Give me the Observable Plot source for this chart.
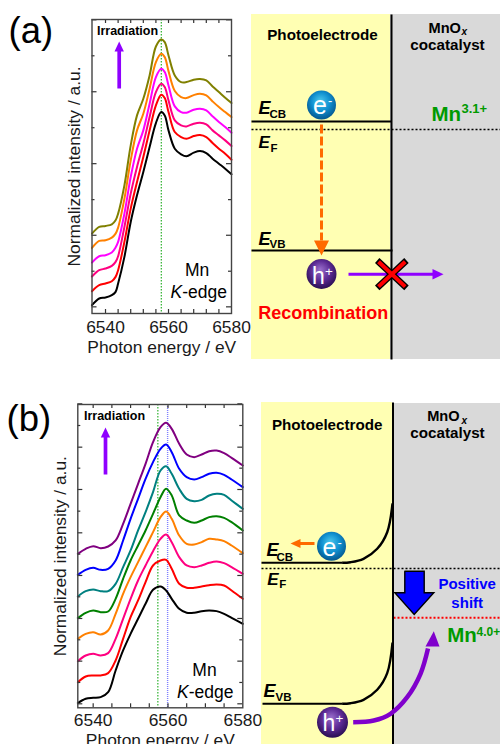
<!DOCTYPE html>
<html>
<head>
<meta charset="utf-8">
<script src="https://cdn.jsdelivr.net/npm/d3@7"></script>
<script src="https://cdn.jsdelivr.net/npm/@observablehq/plot@0.6"></script>
<style>
html,body{margin:0;padding:0;background:#fff;overflow:hidden}
#page{position:relative;width:500px;height:744px;overflow:hidden;font-family:"Liberation Sans",Arial,sans-serif}
#page svg{position:absolute;overflow:visible;background:transparent}
</style>
</head>
<body>
<div id="page"></div>
<script>
// ---- panel (a) spectra ----
const energyA = [6535.7,6538,6540,6542,6543.2,6544,6546,6548,6550,6552,6554,6556,6557.7,6558.8,6560,6562,6564,6565.7,6568,6570,6572,6574,6576,6578,6580];
const a0black   = [85,105,108,115,125,150,230,335,415,485,560,632,665,655,610,555,538,532,543,548,542,525,510,495,478];
const a1red     = [127,145,150,157,170,190,275,375,455,530,610,685,717,707,665,605,590,585,593,596,590,572,555,540,522];
const a2pink    = [171,190,195,203,215,232,320,420,500,570,650,725,750,740,700,640,625,622,630,633,628,610,595,580,563];
const a3magenta = [213,232,235,243,258,275,360,470,555,610,690,770,795,785,745,682,665,663,672,675,670,652,635,620,603];
const a4orange  = [257,278,280,288,300,318,405,520,610,660,735,815,840,830,788,728,710,707,716,720,715,697,680,665,650];
const a5olive   = [300,320,323,328,340,360,445,565,655,705,775,862,883,875,835,775,755,755,762,764,760,742,725,708,692];
const seriesA = [[a0black,"#000000"],[a1red,"#ff0000"],[a2pink,"#ff0080"],[a3magenta,"#ff00ff"],[a4orange,"#ff8000"],[a5olive,"#808000"]];
const xDomainA = [6535.71,6580], yDomainA = [60,943];
const xTicksA = [6540,6544,6548,6552,6556,6560,6564,6568,6572,6576];
const yMajorA = [80,295,510,726,942], yMinorA = [187,402,618,834];

// ---- panel (b) spectra ----
const energyB = [6535.9,6538,6540,6542,6544,6546,6548,6550,6552,6554,6556,6558,6559.5,6561,6563,6565,6567,6569,6571,6573,6575,6577,6580];
const b0black  = [32,45,48,50,65,130,190,240,285,330,372,382,370,345,315,303,303,308,310,308,300,288,270];
const b1red    = [95,112,115,115,122,160,225,290,340,395,445,460,462,435,390,378,378,382,386,388,385,370,345];
const b2pink   = [158,175,180,175,182,225,285,345,400,445,488,525,538,515,470,445,440,445,453,457,452,440,420];
const b3orange = [225,240,245,238,250,300,360,410,455,500,545,590,607,585,535,510,508,515,525,523,518,505,482];
const b4green  = [287,303,310,305,307,345,405,460,505,550,600,650,675,655,595,580,573,580,590,593,588,575,550];
const b5teal   = [352,368,373,368,368,390,440,490,550,605,665,730,743,720,675,645,638,642,655,660,657,640,615];
const b6blue   = [417,432,438,432,435,460,520,585,645,705,755,795,808,785,735,710,703,710,720,723,717,703,680];
const b7purple = [480,495,503,497,502,520,570,630,690,750,815,860,873,855,810,778,770,778,788,790,782,768,745];
const seriesB = [[b0black,"#000000"],[b1red,"#ff0000"],[b2pink,"#ff0080"],[b3orange,"#ff8000"],[b4green,"#008000"],[b5teal,"#008080"],[b6blue,"#0000ff"],[b7purple,"#800080"]];
const xDomainB = [6535.89,6580], yDomainB = [18,928];
const xTicksB = [6540,6545,6550,6555,6560,6565,6570,6575];
const yMajorB = [30,158,286,415,543,673,800,930], yMinorB = [94,222,351,479,608,737,865];

const xLabelTicks = [6540,6560,6580];
const font = '"Liberation Sans",Arial,sans-serif';

function spectrum(cfg){
  const [x0,x1]=cfg.xDomain,[y0,y1]=cfg.yDomain;
  const dx=(x1-x0)/(cfg.right-cfg.left), dy=(y1-y0)/(cfg.bottom-cfg.top);
  const rows=cfg.series.flatMap(([vals,color])=>vals.map((v,i)=>({e:cfg.energy[i],v,color})));
  const tickStyle={stroke:"#333",strokeWidth:1.2};
  const plot=Plot.plot({
    width:cfg.width,height:cfg.height,
    marginLeft:cfg.left,marginRight:cfg.width-cfg.right,marginTop:cfg.top,marginBottom:cfg.height-cfg.bottom,
    x:{domain:cfg.xDomain},y:{domain:cfg.yDomain},
    style:{fontFamily:font,background:"transparent",color:"#1a1a1a"},
    marks:[
      ...cfg.guides.map(g=>Plot.ruleX([g.e],{stroke:g.color,strokeWidth:g.w,strokeDasharray:g.dash})),
      Plot.line(rows,{x:"e",y:"v",z:"color",stroke:"color",strokeWidth:2,curve:"catmull-rom"}),
      Plot.ruleX(cfg.xTicks,{y1:y0,y2:y0+4*dy,...tickStyle}),
      Plot.ruleX(cfg.xTicks,{y1:y1,y2:y1-4*dy,...tickStyle}),
      Plot.ruleY(cfg.yMajor,{x1:x0,x2:x0+5*dx,...tickStyle}),
      Plot.ruleY(cfg.yMinor,{x1:x0,x2:x0+3*dx,...tickStyle}),
      Plot.ruleY(cfg.yMajor,{x1:x1,x2:x1-5*dx,...tickStyle}),
      Plot.ruleY(cfg.yMinor,{x1:x1,x2:x1-3*dx,...tickStyle}),
      Plot.frame({stroke:"#444",strokeWidth:1.4}),
      Plot.axisX(xLabelTicks,{anchor:"bottom",tickSize:0,tickPadding:cfg.xPad,tickFormat:"d",fontSize:17.4,
        label:"Photon energy / eV",labelAnchor:"center",labelArrow:"none",labelOffset:cfg.xLabelOffset}),
      Plot.axisY(cfg.yMajor,{anchor:"left",tickSize:0,tickFormat:()=>"",fontSize:17.4,
        label:"Normalized intensity / a.u.",labelAnchor:"center",labelArrow:"none",labelOffset:cfg.yLabelOffset})
    ]
  });
  plot.style.left=cfg.px+"px";plot.style.top=cfg.py+"px";
  return plot;
}

// ---- schematic geometry ----
const cbCurveB=[[341.7,562.3],[350,561.7],[363,558.3],[376.7,548.3],[386.7,531.7],[392,503]];
const vbCurveB=[[341.7,703.3],[350,702.7],[363,699.3],[376.7,689.3],[386.7,672.7],[392,642]];
const holeCurveB=[[352.7,721.7],[373.3,720],[390,713.3],[406.7,696.7],[420,673.3],[427.5,648]];
const shiftArrowB=[[404.3,570.7],[423.7,570.7],[423.7,592.3],[433.3,592.3],[413.7,614],[394.3,592.3],[404.3,592.3],[404.3,570.7]];

const seg=(pts,o={})=>Plot.line(pts,{x:d=>d[0],y:d=>d[1],stroke:"#000",strokeWidth:2,strokeLinecap:"butt",strokeLinejoin:"miter",strokeMiterlimit:10,...o});
const poly=(pts,fill,o={})=>Plot.line([...pts,pts[0]],{x:d=>d[0],y:d=>d[1],fill,stroke:"none",strokeLinejoin:"miter",strokeMiterlimit:10,...o});
const T=(text,x,y,size,o={})=>Plot.text([text],{x:[x],y:[y],text:d=>d,fontSize:size,textAnchor:"start",lineAnchor:"bottom",fill:"#000",...o});
const B={fontWeight:"bold"}, BI={fontWeight:"bold",fontStyle:"italic"}, M={textAnchor:"middle"};
const green="#009a00", violet="#8f00ff", deep="#8000cc", orange="#ff6a00";

const defs=()=>{
  const d=d3.create("svg:defs");
  const grad=(id,stops)=>{
    const g=d.append("radialGradient").attr("id",id).attr("cx","50%").attr("cy","42%").attr("r","58%").attr("fx","45%").attr("fy","35%");
    stops.forEach(([o,c])=>g.append("stop").attr("offset",o).attr("stop-color",c));
  };
  grad("eBall",[["0%","#4cc8ec"],["55%","#1090d0"],["100%","#05578f"]]);
  grad("hBall",[["0%","#9a70cc"],["55%","#5e2c96"],["100%","#2a0e52"]]);
  return d.node();
};

const schematic=Plot.plot({
  width:500,height:744,margin:0,
  x:{domain:[0,500],range:[0,500],axis:null},
  y:{domain:[0,744],range:[0,744],axis:null},
  style:{fontFamily:font,background:"transparent"},
  marks:[
    defs,
    // panel (a) backgrounds
    Plot.rect([0],{x1:[251],x2:[390],y1:[14],y2:[359],fill:"#ffffb3"}),
    Plot.rect([0],{x1:[390],x2:[500],y1:[14],y2:[359],fill:"#d9d9d9"}),
    // panel (b) backgrounds
    Plot.rect([0],{x1:[261],x2:[392],y1:[402],y2:[744],fill:"#ffffb3"}),
    Plot.rect([0],{x1:[392],x2:[500],y1:[403],y2:[744],fill:"#d9d9d9"}),

    T("(a)",8,42,36.5),
    T("(b)",6,430,36.5),

    // Irradiation (a)
    T("Irradiation",127,34,12.5,{...B,...M}),
    seg([[118.7,88],[118.7,50]],{stroke:violet,strokeWidth:3.7}),
    poly([[114,51],[118.7,41],[123.4,51]],violet),
    T("Mn",196.7,275,17.5,M),
    T("K",170,297,17.5,{fontStyle:"italic"}),
    T("-edge",181.7,297,17.5),

    // Irradiation (b)
    T("Irradiation",114,419,12.5,{...B,...M}),
    seg([[105,474],[105,436]],{stroke:violet,strokeWidth:3.7}),
    poly([[100.3,437],[105,427],[109.7,437]],violet),
    T("Mn",204,675,17.5,M),
    T("K",176.5,697,17.5,{fontStyle:"italic"}),
    T("-edge",188.2,697,17.5),

    // schematic (a)
    T("Photoelectrode",322,39,15.2,{...B,...M}),
    T("MnO",428,32,14.6,B),
    T("x",461,34,10,BI),
    T("cocatalyst",447,49,15.2,{...B,...M}),
    seg([[251,121],[391,121]]),
    seg([[251,250],[392,250]]),
    seg([[251,129],[500,129]],{strokeWidth:1.4,strokeDasharray:"2,2"}),
    seg([[391,14],[391,359]],{strokeWidth:2}),
    T("E",258,113,18,BI),T("CB",269,117.3,11.5,B),
    T("E",258,147.7,17,BI),T("F",270,151.7,11.5,B),
    T("E",258,244.3,18,BI),T("VB",269,247.7,11.5,B),
    seg([[321,124],[321,240]],{stroke:orange,strokeWidth:3,strokeDasharray:"9,3"}),
    poly([[313.5,240],[328.5,240],[321,255]],orange),
    Plot.dot([0],{x:[321],y:[104.5],r:14.5,fill:"url(#eBall)"}),
    T("e",319.5,113,25,{...M,fill:"#fff"}),T("-",327.5,104,13,{fill:"#fff"}),
    Plot.dot([0],{x:[321],y:[273.5],r:15,fill:"url(#hBall)"}),
    T("h",318,283,23,{...M,fill:"#fff"}),T("+",324.5,275,13.5,{fill:"#fff"}),
    seg([[348,273.7],[433,273.7]],{stroke:violet,strokeWidth:3}),
    poly([[432,268.5],[443,273.7],[432,279]],violet),
    seg([[376.7,260],[406,287.3]],{strokeWidth:6.5}),
    seg([[406,260],[376.7,287.3]],{strokeWidth:6.5}),
    seg([[378,261.2],[404.7,286.1]],{stroke:"#ff0000",strokeWidth:4}),
    seg([[404.7,261.2],[378,286.1]],{stroke:"#ff0000",strokeWidth:4}),
    T("Recombination",322.7,318,18,{...B,...M,fill:"#ff0000"}),
    T("Mn",431,120,20.5,{...B,fill:green}),
    T("3.1+",461,112,13,{...B,fill:green}),

    // schematic (b)
    T("Photoelectrode",326.7,429,15.2,{...B,...M}),
    T("MnO",426.7,420,14.6,B),
    T("x",461,423,10,BI),
    T("cocatalyst",447,437.7,15.2,{...B,...M}),
    seg([[261,562.3],[342,562.3]]),
    seg(cbCurveB,{curve:"catmull-rom",strokeWidth:2.4}),
    seg([[262,703.3],[342,703.3]]),
    seg(vbCurveB,{curve:"catmull-rom",strokeWidth:2.4}),
    seg([[261,568],[500,568]],{strokeWidth:1.4,strokeDasharray:"2,2"}),
    seg([[393,617.3],[500,617.3]],{stroke:"#ff0000",strokeWidth:2,strokeDasharray:"2,2"}),
    seg([[392.5,402],[392.5,744]]),
    T("E",266,555.7,18,BI),T("CB",276,560,11.5,B),
    T("E",266.7,584,17,BI),T("F",278.7,587,11.5,B),
    T("E",263,696.7,18,BI),T("VB",275,700.7,11.5,B),
    Plot.dot([0],{x:[331],y:[545.7],r:14.5,fill:"url(#eBall)"}),
    T("e",329,555,25,{...M,fill:"#fff"}),T("-",337,546,13,{fill:"#fff"}),
    seg([[314,543],[298,543]],{stroke:orange,strokeWidth:3}),
    poly([[300,538.5],[290,543],[300,547.5]],orange),
    Plot.dot([0],{x:[332],y:[721.7],r:15.5,fill:"url(#hBall)"}),
    T("h",328.5,730,23,{...M,fill:"#fff"}),T("+",335,722,13.5,{fill:"#fff"}),
    seg(holeCurveB,{stroke:deep,strokeWidth:4.5,curve:"catmull-rom"}),
    poly([[425,646],[433.3,630.7],[439,646]],deep),
    poly(shiftArrowB,"#0000ff",{stroke:"#000",strokeWidth:1.4}),
    T("Positive",466.7,588,15,{...B,...M,fill:"#0000ff"}),
    T("shift",466.7,607.7,15,{...B,...M,fill:"#0000ff"}),
    T("Mn",446.7,641.7,20.5,{...B,fill:green}),
    T("4.0+",476,635,12,{...B,fill:green})
  ]
});
schematic.style.left="0px";schematic.style.top="0px";

const page=document.getElementById("page");
page.appendChild(schematic);
page.appendChild(spectrum({px:0,py:0,width:260,height:370,left:91.5,right:231,top:19,bottom:313,
  energy:energyA,series:seriesA,xDomain:xDomainA,yDomain:yDomainA,xTicks:xTicksA,yMajor:yMajorA,yMinor:yMinorA,
  guides:[{e:6557.7,color:"#00a000",w:1,dash:"1.5,1.5"}],xPad:7,xLabelOffset:39,yLabelOffset:24}));
page.appendChild(spectrum({px:0,py:380,width:262,height:364,left:77.3,right:242.3,top:24,bottom:327.3,
  energy:energyB,series:seriesB,xDomain:xDomainB,yDomain:yDomainB,xTicks:xTicksB,yMajor:yMajorB,yMinor:yMinorB,
  guides:[{e:6557.3,color:"#00a000",w:1,dash:"1.5,1.5"},{e:6559.9,color:"#7f7fff",w:1.4,dash:"1,1"}],xPad:6,xLabelOffset:38,yLabelOffset:24}));
</script>
</body>
</html>
